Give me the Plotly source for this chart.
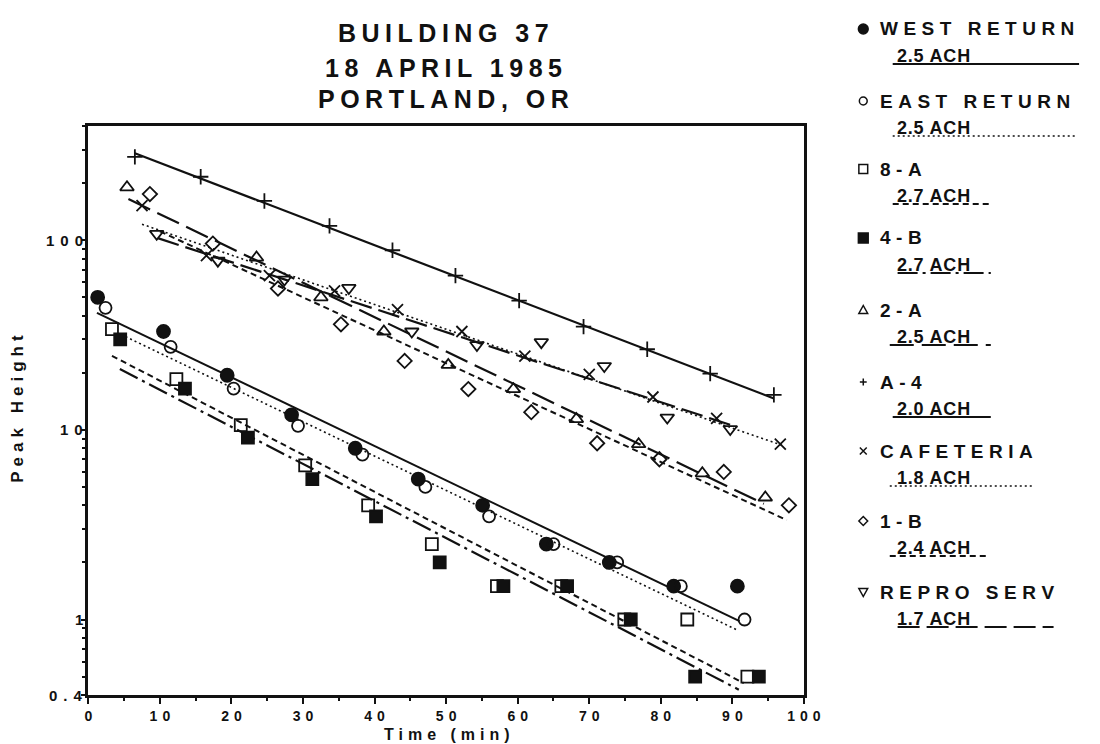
import numpy as np
import plotly.graph_objects as go

# ---- sampled tracer peak heights: elapsed time (min) and peak height ----
west_t = [1.3, 10.5, 19.4, 28.4, 37.3, 46.1, 55.1, 64.0, 72.8, 81.8, 90.7]
west_v = [50, 33, 19.4, 12.0, 8.0, 5.5, 4.0, 2.5, 2.0, 1.5, 1.5]

east_t = [2.4, 11.5, 20.3, 29.3, 38.3, 47.1, 56.0, 65.0, 73.9, 82.8, 91.7]
east_v = [44, 27.4, 16.5, 10.5, 7.4, 5.0, 3.5, 2.5, 2.0, 1.5, 1.0]

r8a_t = [3.3, 12.3, 21.3, 30.3, 39.1, 48.0, 57.1, 66.1, 74.9, 83.7, 92.1]
r8a_v = [34, 18.5, 10.6, 6.5, 4.0, 2.5, 1.5, 1.5, 1.0, 1.0, 0.5]

r4b_t = [4.45, 13.5, 22.3, 31.3, 40.2, 49.1, 58.0, 66.9, 75.8, 84.8, 93.7]
r4b_v = [30, 16.5, 9.1, 5.5, 3.5, 2.0, 1.5, 1.5, 1.0, 0.5, 0.5]

r2a_t = [5.4, 23.5, 32.5, 41.3, 50.3, 59.4, 68.2, 76.9, 85.8, 94.6]
r2a_v = [190, 81, 50, 33, 22, 16.4, 11.4, 8.4, 5.9, 4.4]

ra4_t = [6.5, 15.7, 24.6, 33.7, 42.5, 51.3, 60.2, 69.2, 78.1, 86.9, 95.8]
ra4_v = [275, 216, 161, 119, 88.5, 65, 48, 35, 26.6, 19.8, 15.3]

caf_t = [7.5, 16.5, 25.3, 34.4, 43.2, 52.2, 61.0, 70.0, 78.9, 87.8, 96.7]
caf_v = [152, 83, 65, 54, 43, 33, 24.5, 19.6, 14.9, 11.5, 8.4]

r1b_t = [8.6, 17.4, 26.5, 35.3, 44.2, 53.1, 61.9, 71.1, 79.8, 88.8, 97.9]
r1b_v = [175, 96, 55.6, 36, 23.1, 16.4, 12.4, 8.5, 7.0, 6.0, 4.0]

rep_t = [9.55, 18.1, 27.4, 36.4, 45.2, 54.3, 63.3, 72.1, 80.9, 89.7]
rep_v = [108, 78, 62, 56, 33, 28, 29, 21.7, 11.6, 10.1]

# ---- exponential decay fits: air changes per hour, intercept at t=0, fitted span ----
names = ["WEST RETURN", "EAST RETURN", "8-A", "4-B", "2-A", "A-4",
         "CAFETERIA", "1-B", "REPRO SERV"]
ach = [2.5, 2.5, 2.7, 2.7, 2.5, 2.0, 1.8, 2.4, 1.7]
fit_a = [43.5, 38.5, 28.5, 25.5, 208, 357, 152, 166, 135]
fit_t0 = [1.2, 5.2, 3.3, 4.4, 5.6, 6.5, 7.5, 10.0, 9.7]
fit_t1 = [91.0, 90.6, 91.6, 90.9, 94.4, 95.8, 97.2, 97.6, 90.7]

times = [west_t, east_t, r8a_t, r4b_t, r2a_t, ra4_t, caf_t, r1b_t, rep_t]
peaks = [west_v, east_v, r8a_v, r4b_v, r2a_v, ra4_v, caf_v, r1b_v, rep_v]

# axis ticks
x_ticks = list(range(0, 101, 10))
y_ticks = [0.4, 1, 10, 100]
y_labels = ["0.4", "1", "10", "100"]

# drawing style per location
symbols = ["circle", "circle-open", "square-open", "square", "triangle-up-open",
           "cross-thin-open", "x-thin-open", "diamond-open", "triangle-down-open"]
msizes = [13, 12, 12, 12, 12, 11, 11, 11, 12]
dashes = ["solid", "2px,3px", "6px,4px", "20px,5px,3px,5px", "24px,8px",
          "solid", "2px,3px", "6px,4px", "22px,7px"]
lwidths = [2.0, 1.6, 2.0, 2.2, 2.2, 2.2, 1.6, 2.0, 2.2]

FONT = "Liberation Sans"
INK = "#111111"
W, H = 1100, 744


def fx(px):
    return px / W


def fy(py):
    return 1 - py / H


def spaced(text, px):
    # tracking between characters only, none after the last one
    if len(text) < 2:
        return text
    return f'<span style="letter-spacing:{px}px">{text[:-1]}</span>{text[-1]}'


fig = go.Figure()

# fitted decay lines (straight on the log axis)
for i in range(len(names)):
    tt = np.array([fit_t0[i], fit_t1[i]])
    yy = fit_a[i] * np.exp(-ach[i] * tt / 60.0)
    fig.add_trace(go.Scatter(
        x=tt, y=yy, mode="lines", showlegend=False, hoverinfo="skip",
        line=dict(color=INK, width=lwidths[i], dash=dashes[i])))

# measured points
for i in range(len(names)):
    fig.add_trace(go.Scatter(
        x=times[i], y=peaks[i], mode="markers", name=names[i], showlegend=False,
        marker=dict(symbol=symbols[i], size=msizes[i], color=INK,
                    line=dict(color=INK, width=1.8))))

# ---- key on the right: symbol, location name, rate underlined in line style ----
key_y = [29, 101, 169, 238, 310, 382, 451, 521, 592]
key_mx = 876
key_ux0 = [906, 906, 906, 911, 903, 906, 903, 903, 911]
key_ux1 = [1096, 1092, 1006, 1006, 1006, 1006, 1050, 1001, 1070]
NAME_LS, ACH_LS = 5.5, 0.8
NAME_X, ACH_X = 891, 908


def key_symbol(i, cx, cy):
    """Small legend glyph drawn as a layout shape in paper coordinates."""
    line = dict(color=INK, width=1.5)
    if i in (0, 1):
        r = 5 if i == 0 else 4
        return dict(type="circle", x0=fx(cx - r), x1=fx(cx + r), y0=fy(cy - r),
                    y1=fy(cy + r), line=line,
                    fillcolor=INK if i == 0 else "rgba(0,0,0,0)")
    if i in (2, 3):
        r = 4.5 if i == 2 else 5
        return dict(type="rect", x0=fx(cx - r), x1=fx(cx + r), y0=fy(cy - r),
                    y1=fy(cy + r), line=line,
                    fillcolor=INK if i == 3 else "rgba(0,0,0,0)")
    if i == 4:
        pts = [(cx, cy - 4.5), (cx + 4.5, cy + 3.5), (cx - 4.5, cy + 3.5)]
    elif i == 8:
        pts = [(cx - 4.5, cy - 3.5), (cx + 4.5, cy - 3.5), (cx, cy + 4.5)]
    elif i == 7:
        pts = [(cx, cy - 4.5), (cx + 4.5, cy), (cx, cy + 4.5), (cx - 4.5, cy)]
    else:
        pts = None
    if pts is not None:
        path = "M " + " L ".join(f"{fx(a):.5f},{fy(b):.5f}" for a, b in pts) + " Z"
        return dict(type="path", path=path, line=line)
    s = 3.5
    if i == 5:
        path = (f"M {fx(cx - s):.5f},{fy(cy):.5f} L {fx(cx + s):.5f},{fy(cy):.5f} "
                f"M {fx(cx):.5f},{fy(cy - s):.5f} L {fx(cx):.5f},{fy(cy + s):.5f}")
    else:
        path = (f"M {fx(cx - s):.5f},{fy(cy - s):.5f} L {fx(cx + s):.5f},{fy(cy + s):.5f} "
                f"M {fx(cx - s):.5f},{fy(cy + s):.5f} L {fx(cx + s):.5f},{fy(cy - s):.5f}")
    return dict(type="path", path=path, line=line)


shapes = []
annotations = []
for i in range(len(names)):
    shp = key_symbol(i, key_mx, key_y[i])
    shp.update(xref="paper", yref="paper")
    shapes.append(shp)
    uy = key_y[i] + 35
    shapes.append(dict(type="line", xref="paper", yref="paper",
                       x0=fx(key_ux0[i]), x1=fx(key_ux1[i]), y0=fy(uy), y1=fy(uy),
                       line=dict(color=INK, width=lwidths[i], dash=dashes[i])))
    annotations.append(dict(
        x=fx(NAME_X), y=fy(key_y[i]),
        xref="paper", yref="paper", xanchor="left", yanchor="middle",
        showarrow=False, text=spaced(names[i], NAME_LS),
        font=dict(family=FONT, size=19, color=INK, weight="bold")))
    rate = f"{ach[i]:.1f} ACH"
    annotations.append(dict(
        x=fx(ACH_X), y=fy(key_y[i] + 27),
        xref="paper", yref="paper", xanchor="left", yanchor="middle",
        showarrow=False, text=spaced(rate, ACH_LS),
        font=dict(family=FONT, size=18, color=INK, weight="bold")))

# y tick labels, placed on the log axis at their tick values
for v, lab in zip(y_ticks, y_labels):
    annotations.append(dict(
        x=fx(83), y=np.log10(v), xref="paper", yref="y", xanchor="right",
        yanchor="middle", showarrow=False, text=spaced(lab, 6),
        font=dict(family=FONT, size=15, color=INK, weight="bold")))

# title block
for txt, yy in [("BUILDING 37", 33), ("18 APRIL 1985", 68), ("PORTLAND, OR", 99)]:
    annotations.append(dict(
        x=fx(448), y=fy(yy), xref="paper", yref="paper", xanchor="center",
        yanchor="middle", showarrow=False, text=spaced(txt, 5.5),
        font=dict(family=FONT, size=25, color=INK, weight="bold")))

# axis titles
annotations.append(dict(
    x=fx(452), y=fy(734), xref="paper", yref="paper", xanchor="center",
    yanchor="middle", showarrow=False, text=spaced("Time (min)", 5),
    font=dict(family=FONT, size=16, color=INK, weight="bold")))
annotations.append(dict(
    x=fx(14), y=fy(409), xref="paper", yref="paper", xanchor="center",
    yanchor="middle", showarrow=False, textangle=-90,
    text=spaced("Peak Height", 5),
    font=dict(family=FONT, size=17, color=INK, weight="bold")))

fig.update_layout(
    width=W, height=H,
    margin=dict(l=0, r=0, t=0, b=0),
    paper_bgcolor="white", plot_bgcolor="white",
    shapes=shapes, annotations=annotations,
    xaxis=dict(
        domain=[86 / W, 815.5 / W], range=[0, 100],
        showline=True, mirror=True, linecolor=INK, linewidth=3,
        showgrid=False, zeroline=False,
        ticks="outside", ticklen=6, tickwidth=2, tickcolor=INK,
        tickmode="array", tickvals=x_ticks,
        ticktext=[spaced(str(v), 5) for v in x_ticks],
        tickfont=dict(family=FONT, size=14, color=INK, weight="bold"),
        minor=dict(tick0=5, dtick=10, ticks="outside", ticklen=3, tickwidth=1.5,
                   tickcolor=INK, showgrid=False),
    ),
    yaxis=dict(
        type="log", domain=[(H - 695) / H, (H - 126) / H],
        range=[np.log10(0.4), np.log10(400)],
        showline=True, mirror=True, linecolor=INK, linewidth=3,
        showgrid=False, zeroline=False,
        ticks="outside", ticklen=4, tickwidth=2, tickcolor=INK,
        tickmode="array", tickvals=y_ticks, showticklabels=False,
        minor=dict(dtick="D1", ticks="outside", ticklen=3, tickwidth=1.5,
                   tickcolor=INK, showgrid=False),
    ),
)

fig.write_html("out.html")
